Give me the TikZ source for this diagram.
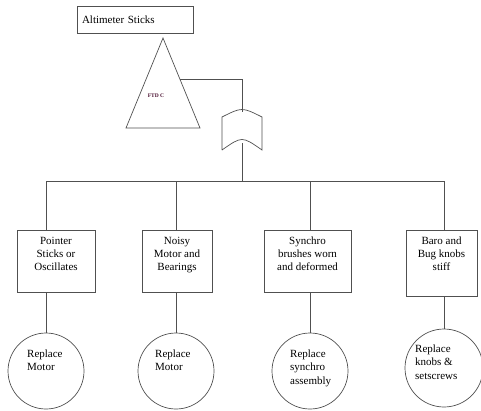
\documentclass[tikz,border=0pt]{standalone}
\usepackage{fontspec}
\setmainfont{Liberation Serif}
\usepackage{tikz}
\usetikzlibrary{positioning}
\usetikzlibrary{calc}
\definecolor{lineColor}{HTML}{505050}
\definecolor{transferColor}{HTML}{4A1030}
\tikzset{
  event/.style={draw=lineColor, line width=0.7pt, inner sep=0pt},
  repair/.style={draw=lineColor, line width=0.7pt, circle, inner sep=0pt, minimum size=76pt},
  boxtext/.style={align=center, inner sep=0pt, font=\fontsize{11}{13}\selectfont},
  circtext/.style={align=left, inner sep=0pt, anchor=north west, font=\fontsize{11}{13.5}\selectfont},
  wire/.style={draw=lineColor, line width=0.7pt}
}

\begin{document}
\begin{tikzpicture}[x=1pt, y=-1pt]
          \useasboundingbox (0,0) rectangle (481,410);
          % top event
          \node[event, minimum width=116pt, minimum height=27pt, align=left, text width=106pt,
                font=\fontsize{11}{13}\selectfont] (top) at (135,19.5) {Altimeter Sticks};
          % transfer triangle
          \coordinate (ftdA) at (163,38);
          \coordinate (ftdL) at (126,128);
          \coordinate (ftdR) at (200,128);
          \coordinate (ftdOut) at (180,79);
          \draw[wire] (ftdA) -- (ftdL) -- (ftdR) -- cycle;
          \node[text=transferColor, font=\fontsize{5.5}{6}\selectfont\bfseries] (ftd) at (156,96) {FTD C};
          % or gate
          \coordinate (gin) at (242,112);
          \coordinate (gout) at (242,143);
          \draw[wire] (222,150) -- (222,117) .. controls (242,107) .. (262,117)
                      -- (262,150) .. controls (242,136) .. (222,150);
          \coordinate (bus) at (242,181);
          % basic events
          \node[event, minimum width=78pt, minimum height=62pt] (b1) at (56,261) {};
          \node[event, minimum width=70pt, minimum height=62pt] (b2) at (177,261) {};
          \node[event, minimum width=87pt, minimum height=62pt] (b3) at (307.5,261) {};
          \node[event, minimum width=71pt, minimum height=66pt] (b4) at (441.5,263) {};
          \node[boxtext, below=7.5pt of b1.north] (t1) {Pointer\\Sticks or\\Oscillates};
          \node[boxtext, below=7.5pt of b2.north] (t2) {Noisy\\Motor and\\Bearings};
          \node[boxtext, below=7.5pt of b3.north] (t3) {Synchro\\brushes worn\\and deformed};
          \node[boxtext, below=7.5pt of b4.north] (t4) {Baro and\\Bug knobs\\stiff};
          % repairs
          \node[repair] (c1) at (46,371) {};
          \node[repair] (c2) at (176,371) {};
          \node[repair] (c3) at (310,371) {};
          \node[repair, minimum size=78pt] (c4) at (444,368) {};
          \node[circtext] (r1) at ($(c1.center)+(-19,-21.5)$) {Replace\\Motor};
          \node[circtext] (r2) at ($(c2.center)+(-21,-21.5)$) {Replace\\Motor};
          \node[circtext] (r3) at ($(c3.center)+(-20,-21.5)$) {Replace\\synchro\\assembly};
          \node[circtext] (r4) at ($(c4.center)+(-29,-23.5)$) {Replace\\knobs \&\\setscrews};
          % connectors
          \draw[wire] (ftdOut) -| (gin);
          \draw[wire] (gout) -- (bus);
          \draw[wire] (c1 |- bus) -- (c4 |- bus);
          \foreach \i in {1,...,4} {
            \draw[wire] (c\i |- bus) -- (c\i |- b\i.north);
            \draw[wire] (c\i |- b\i.south) -- (c\i.north);
          }
        \end{tikzpicture}
\end{document}
